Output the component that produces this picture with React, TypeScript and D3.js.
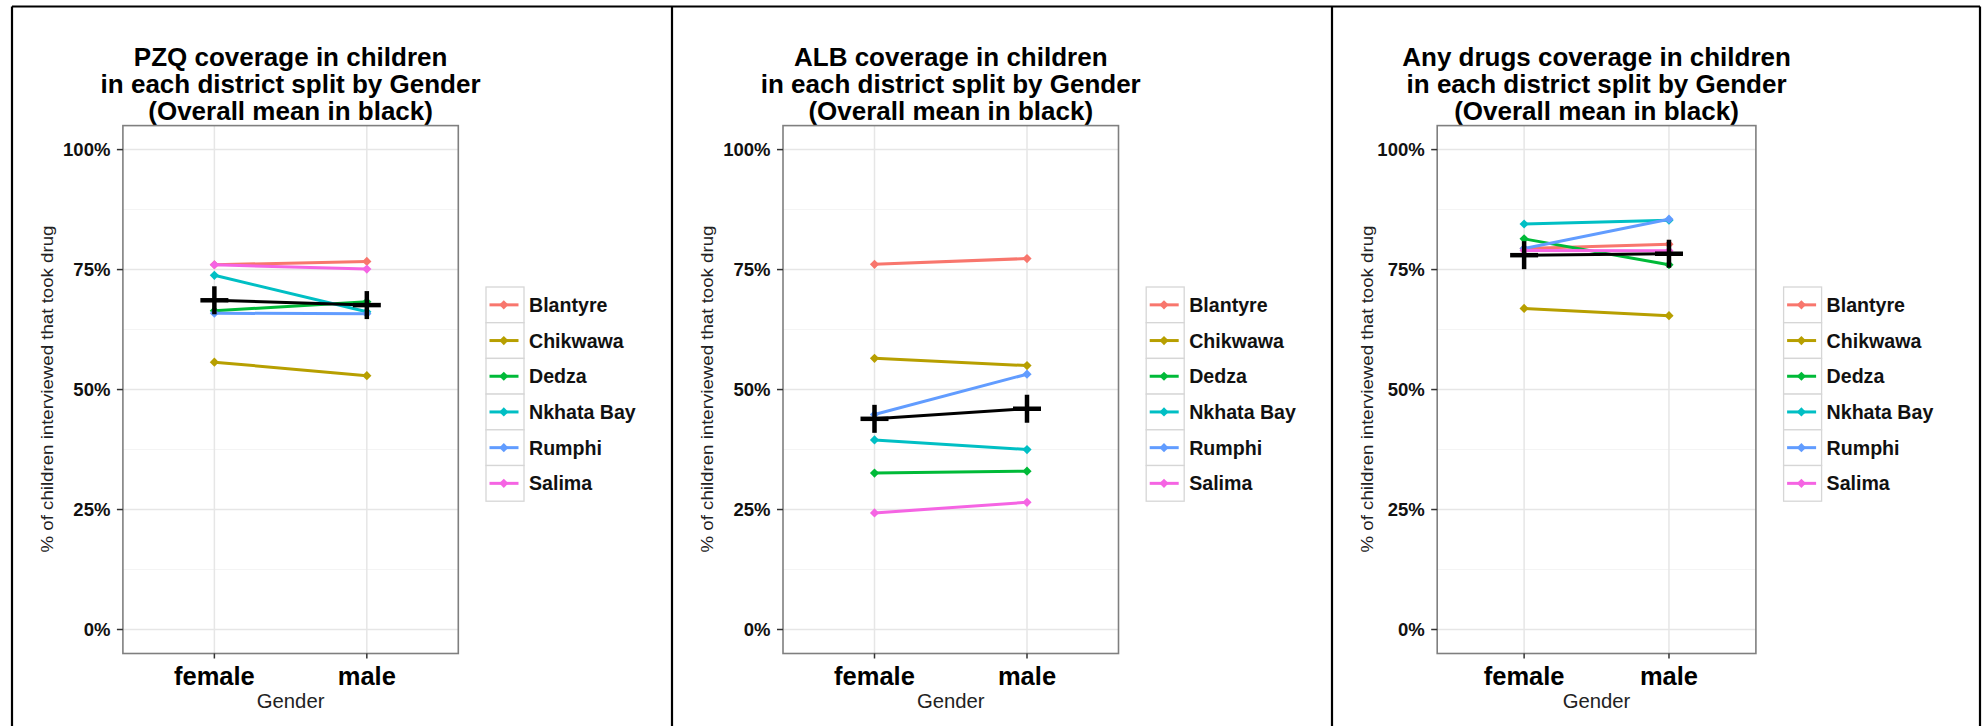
import React from "react";
import * as d3 from "d3";

const districts = ["Blantyre", "Chikwawa", "Dedza", "Nkhata Bay", "Rumphi", "Salima"];
const districtColors = ["#F8766D", "#B79F00", "#00BA38", "#00BFC4", "#619CFF", "#F564E3"];
const genders = ["female", "male"];
const yTicks = [0, 25, 50, 75, 100];
const yMinorTicks = [12.5, 37.5, 62.5, 87.5];

const pzqFemale = [76.0, 55.7, 66.4, 73.8, 65.9, 76.0];
const pzqMale = [76.7, 52.9, 68.3, 66.2, 65.8, 75.1];
const pzqMean = [68.6, 67.6];

const albFemale = [76.1, 56.5, 32.6, 39.5, 44.8, 24.3];
const albMale = [77.3, 55.0, 33.0, 37.5, 53.2, 26.5];
const albMean = [43.9, 46.0];

const anyFemale = [79.4, 66.9, 81.4, 84.5, 79.4, 79.0];
const anyMale = [80.3, 65.4, 76.0, 85.3, 85.5, 78.9];
const anyMean = [78.0, 78.3];

const titleLine1 = [
  "PZQ coverage in children",
  "ALB coverage in children",
  "Any drugs coverage in children",
];
const titleLine2 = "in each district split by Gender";
const titleLine3 = "(Overall mean in black)";
const yTitle = "% of children interviewed that took drug";
const xTitle = "Gender";

const FONT = "'Liberation Sans', Arial, Helvetica, sans-serif";

type PanelProps = {
  panelLeft: number;
  plotLeft: number;
  plotRight: number;
  title: string;
  female: number[];
  male: number[];
  mean: number[];
};

function Panel({ panelLeft, plotLeft, plotRight, title, female, male, mean }: PanelProps) {
  const plotTop = 125.6;
  const plotBottom = 653.5;
  const x = d3.scalePoint<string>().domain(genders).range([plotLeft, plotRight]).padding(0.6);
  const y = d3.scaleLinear().domain([-5, 105]).range([plotBottom, plotTop]);
  const line = d3
    .line<{ g: string; v: number }>()
    .x((d) => x(d.g) as number)
    .y((d) => y(d.v));
  const cx = (plotLeft + plotRight) / 2;
  const diamond = (px: number, py: number, r: number) =>
    `M${px},${py - r}L${px + r},${py}L${px},${py + r}L${px - r},${py}Z`;

  const legendLeft = plotRight + 27.7;
  const legendTop = 287;
  const rowH = 35.7;
  const keyW = 38;

  return (
    <g>
      {/* title */}
      <g fontFamily={FONT} fontWeight="bold" fontSize={26} textAnchor="middle" fill="#000">
        <text x={cx} y={65.5}>{title}</text>
        <text x={cx} y={93}>{titleLine2}</text>
        <text x={cx} y={120}>{titleLine3}</text>
      </g>
      {/* panel background */}
      <rect x={plotLeft} y={plotTop} width={plotRight - plotLeft} height={plotBottom - plotTop} fill="#fff" />
      {/* minor gridlines */}
      {yMinorTicks.map((t) => (
        <line key={"mn" + t} x1={plotLeft} x2={plotRight} y1={y(t)} y2={y(t)} stroke="#f4f4f4" strokeWidth={1} />
      ))}
      {/* major gridlines */}
      {yTicks.map((t) => (
        <line key={"mj" + t} x1={plotLeft} x2={plotRight} y1={y(t)} y2={y(t)} stroke="#e6e6e6" strokeWidth={1.5} />
      ))}
      {genders.map((g) => (
        <line key={"gx" + g} x1={x(g)} x2={x(g)} y1={plotTop} y2={plotBottom} stroke="#e6e6e6" strokeWidth={1.5} />
      ))}
      {/* district lines */}
      {districts.map((dname, i) => (
        <g key={dname}>
          <path
            d={line([{ g: "female", v: female[i] }, { g: "male", v: male[i] }]) || ""}
            fill="none"
            stroke={districtColors[i]}
            strokeWidth={3}
          />
          <path d={diamond(x("female") as number, y(female[i]), 4.6)} fill={districtColors[i]} />
          <path d={diamond(x("male") as number, y(male[i]), 4.6)} fill={districtColors[i]} />
        </g>
      ))}
      {/* mean line and crosses */}
      <path
        d={line([{ g: "female", v: mean[0] }, { g: "male", v: mean[1] }]) || ""}
        fill="none"
        stroke="#000"
        strokeWidth={3}
      />
      {genders.map((g, i) => {
        const px = x(g) as number;
        const py = y(mean[i]);
        return (
          <g key={"m" + g} stroke="#000" strokeWidth={4.5}>
            <line x1={px - 14} x2={px + 14} y1={py} y2={py} />
            <line x1={px} x2={px} y1={py - 14} y2={py + 14} />
          </g>
        );
      })}
      {/* panel border */}
      <rect
        x={plotLeft}
        y={plotTop}
        width={plotRight - plotLeft}
        height={plotBottom - plotTop}
        fill="none"
        stroke="#7f7f7f"
        strokeWidth={1.6}
      />
      {/* y axis ticks & labels */}
      {yTicks.map((t) => (
        <g key={"yt" + t}>
          <line x1={plotLeft - 6} x2={plotLeft} y1={y(t)} y2={y(t)} stroke="#333" strokeWidth={1.5} />
          <text
            x={plotLeft - 12.5}
            y={y(t)}
            dy="0.36em"
            textAnchor="end"
            fontFamily={FONT}
            fontWeight="bold"
            fontSize={18.5}
            fill="#111"
          >
            {t + "%"}
          </text>
        </g>
      ))}
      {/* x axis ticks & labels */}
      {genders.map((g) => (
        <g key={"xt" + g}>
          <line x1={x(g)} x2={x(g)} y1={plotBottom} y2={plotBottom + 5} stroke="#333" strokeWidth={1.5} />
          <text
            x={x(g)}
            y={685}
            textAnchor="middle"
            fontFamily={FONT}
            fontWeight="bold"
            fontSize={25.5}
            fill="#000"
          >
            {g}
          </text>
        </g>
      ))}
      {/* axis titles */}
      <text x={cx} y={708} textAnchor="middle" fontFamily={FONT} fontSize={20.3} fill="#222">
        {xTitle}
      </text>
      <text
        transform={`translate(${panelLeft + 41},389) rotate(-90)`}
        textAnchor="middle"
        fontFamily={FONT}
        fontSize={17}
        fill="#222"
        textLength={327}
        lengthAdjust="spacingAndGlyphs"
      >
        {yTitle}
      </text>
      {/* legend */}
      {districts.map((dname, i) => {
        const top = legendTop + i * rowH;
        const mid = top + rowH / 2;
        return (
          <g key={"lg" + dname}>
            <rect x={legendLeft} y={top} width={keyW} height={rowH} fill="#fff" stroke="#d6d6d6" strokeWidth={1.3} />
            <line
              x1={legendLeft + 3.5}
              x2={legendLeft + keyW - 5.5}
              y1={mid}
              y2={mid}
              stroke={districtColors[i]}
              strokeWidth={3}
            />
            <path d={diamond(legendLeft + 17.8, mid, 4.6)} fill={districtColors[i]} />
            <text
              x={legendLeft + 43}
              y={mid}
              dy="0.36em"
              fontFamily={FONT}
              fontWeight="bold"
              fontSize={19.6}
              fill="#111"
            >
              {dname}
            </text>
          </g>
        );
      })}
    </g>
  );
}

export default function App() {
  return (
    <svg
      width={1988}
      height={726}
      style={{ position: "absolute", left: 0, top: 0, background: "#fff" }}
      xmlns="http://www.w3.org/2000/svg"
    >
      <rect x={0} y={0} width={1988} height={726} fill="#fff" />
      <Panel panelLeft={12} plotLeft={122.9} plotRight={458.3} title={titleLine1[0]} female={pzqFemale} male={pzqMale} mean={pzqMean} />
      <Panel panelLeft={672} plotLeft={783} plotRight={1118.5} title={titleLine1[1]} female={albFemale} male={albMale} mean={albMean} />
      <Panel panelLeft={1332} plotLeft={1437.2} plotRight={1755.9} title={titleLine1[2]} female={anyFemale} male={anyMale} mean={anyMean} />
      {/* outer frame */}
      <g stroke="#000" strokeWidth={2.2}>
        <line x1={12} x2={1980} y1={6.5} y2={6.5} />
        <line x1={12} x2={12} y1={6.5} y2={726} />
        <line x1={672} x2={672} y1={6.5} y2={726} />
        <line x1={1332} x2={1332} y1={6.5} y2={726} />
        <line x1={1980} x2={1980} y1={6.5} y2={726} />
      </g>
    </svg>
  );
}
